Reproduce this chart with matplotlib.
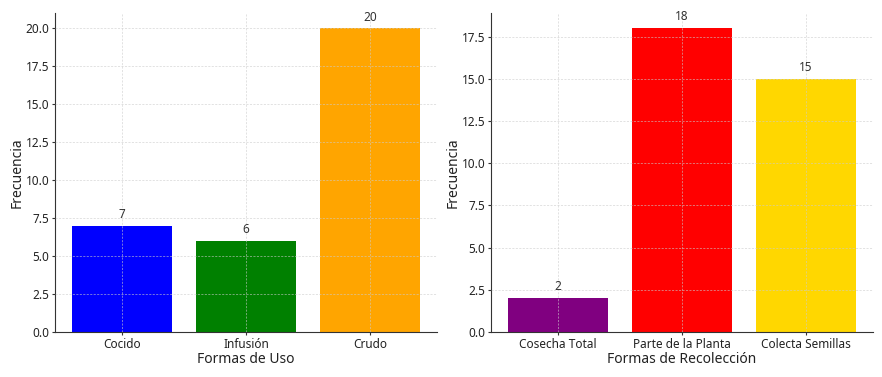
import matplotlib
matplotlib.use("Agg")
import matplotlib.pyplot as plt

uso_cats = ["Cocido", "Infusión", "Crudo"]
uso_vals = [7, 6, 20]
uso_colors = ["blue", "green", "orange"]

rec_cats = ["Cosecha Total", "Parte de la Planta", "Colecta Semillas"]
rec_vals = [2, 18, 15]
rec_colors = ["purple", "red", "gold"]

plt.rcParams['font.family'] = ['Noto Sans', 'DejaVu Sans']

fig, axes = plt.subplots(1, 2, figsize=(8.82, 3.77), dpi=100)
fig.subplots_adjust(left=0.0624, right=0.9898, top=0.9655, bottom=0.1194, wspace=0.141)

for ax, cats, vals, cols, xl in [(axes[0], uso_cats, uso_vals, uso_colors, "Formas de Uso"),
                                 (axes[1], rec_cats, rec_vals, rec_colors, "Formas de Recolección")]:
    bars = ax.bar(cats, vals, color=cols, width=0.8)
    for b, v in zip(bars, vals):
        ax.text(b.get_x() + b.get_width() / 2, v + 0.3, str(v), ha='center', va='bottom',
                fontsize=8.5, color='#333333')
    ax.set_xlabel(xl, fontsize=10, color='#222222', labelpad=1)
    ax.set_ylabel("Frecuencia", fontsize=10, color='#222222', labelpad=0.5)
    ax.grid(True, linestyle=(0, (3, 2)), linewidth=0.5, color='#cccccc', alpha=0.8)
    ax.set_axisbelow(False)
    ax.spines['top'].set_visible(False)
    ax.spines['right'].set_visible(False)
    for s in ['left', 'bottom']:
        ax.spines[s].set_color('#333333')
    ax.tick_params(labelsize=8.5, colors='#333333', labelcolor='#222222', pad=1.5, length=2.5)

axes[0].set_ylim(0, 21)
axes[1].set_ylim(0, 18.9)

fig.savefig("out.png", dpi=100)
